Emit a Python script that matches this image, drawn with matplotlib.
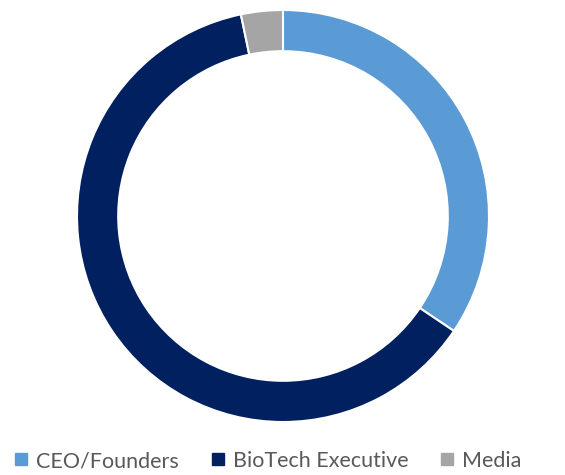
import matplotlib
matplotlib.use("Agg")
import matplotlib.pyplot as plt
from matplotlib.lines import Line2D

labels = ["CEO/Founders", "BioTech Executive", "Media"]
values = [21, 38, 2]
colors = ["#5B9BD5", "#002060", "#A5A5A5"]

W, H = 565, 475
fig = plt.figure(figsize=(W/100, H/100), dpi=100)
cx, cy, r = 283, 216, 206
ax = fig.add_axes([(cx - r)/W, (H - cy - r)/H, 2*r/W, 2*r/H])
ax.pie(values, colors=colors, startangle=90, counterclock=False, radius=1,
       wedgeprops=dict(width=0.2, edgecolor="white", linewidth=1.5))
ax.set_xlim(-1, 1); ax.set_ylim(-1, 1)
ax.set_aspect("equal")
ax.axis("off")

handles = [Line2D([0], [0], marker="s", linestyle="none", markersize=8,
                  markerfacecolor=c, markeredgecolor=c) for c in colors]
fig.legend(handles, labels, loc="center", bbox_to_anchor=(266/W, 1 - 461/H), ncol=3,
           frameon=False, prop=dict(family="Lato", size=15.5), handletextpad=0.2,
           columnspacing=1.31, labelcolor="#595959", handlelength=1.0,
           borderpad=0, borderaxespad=0)
fig.savefig("out.png", dpi=100)
